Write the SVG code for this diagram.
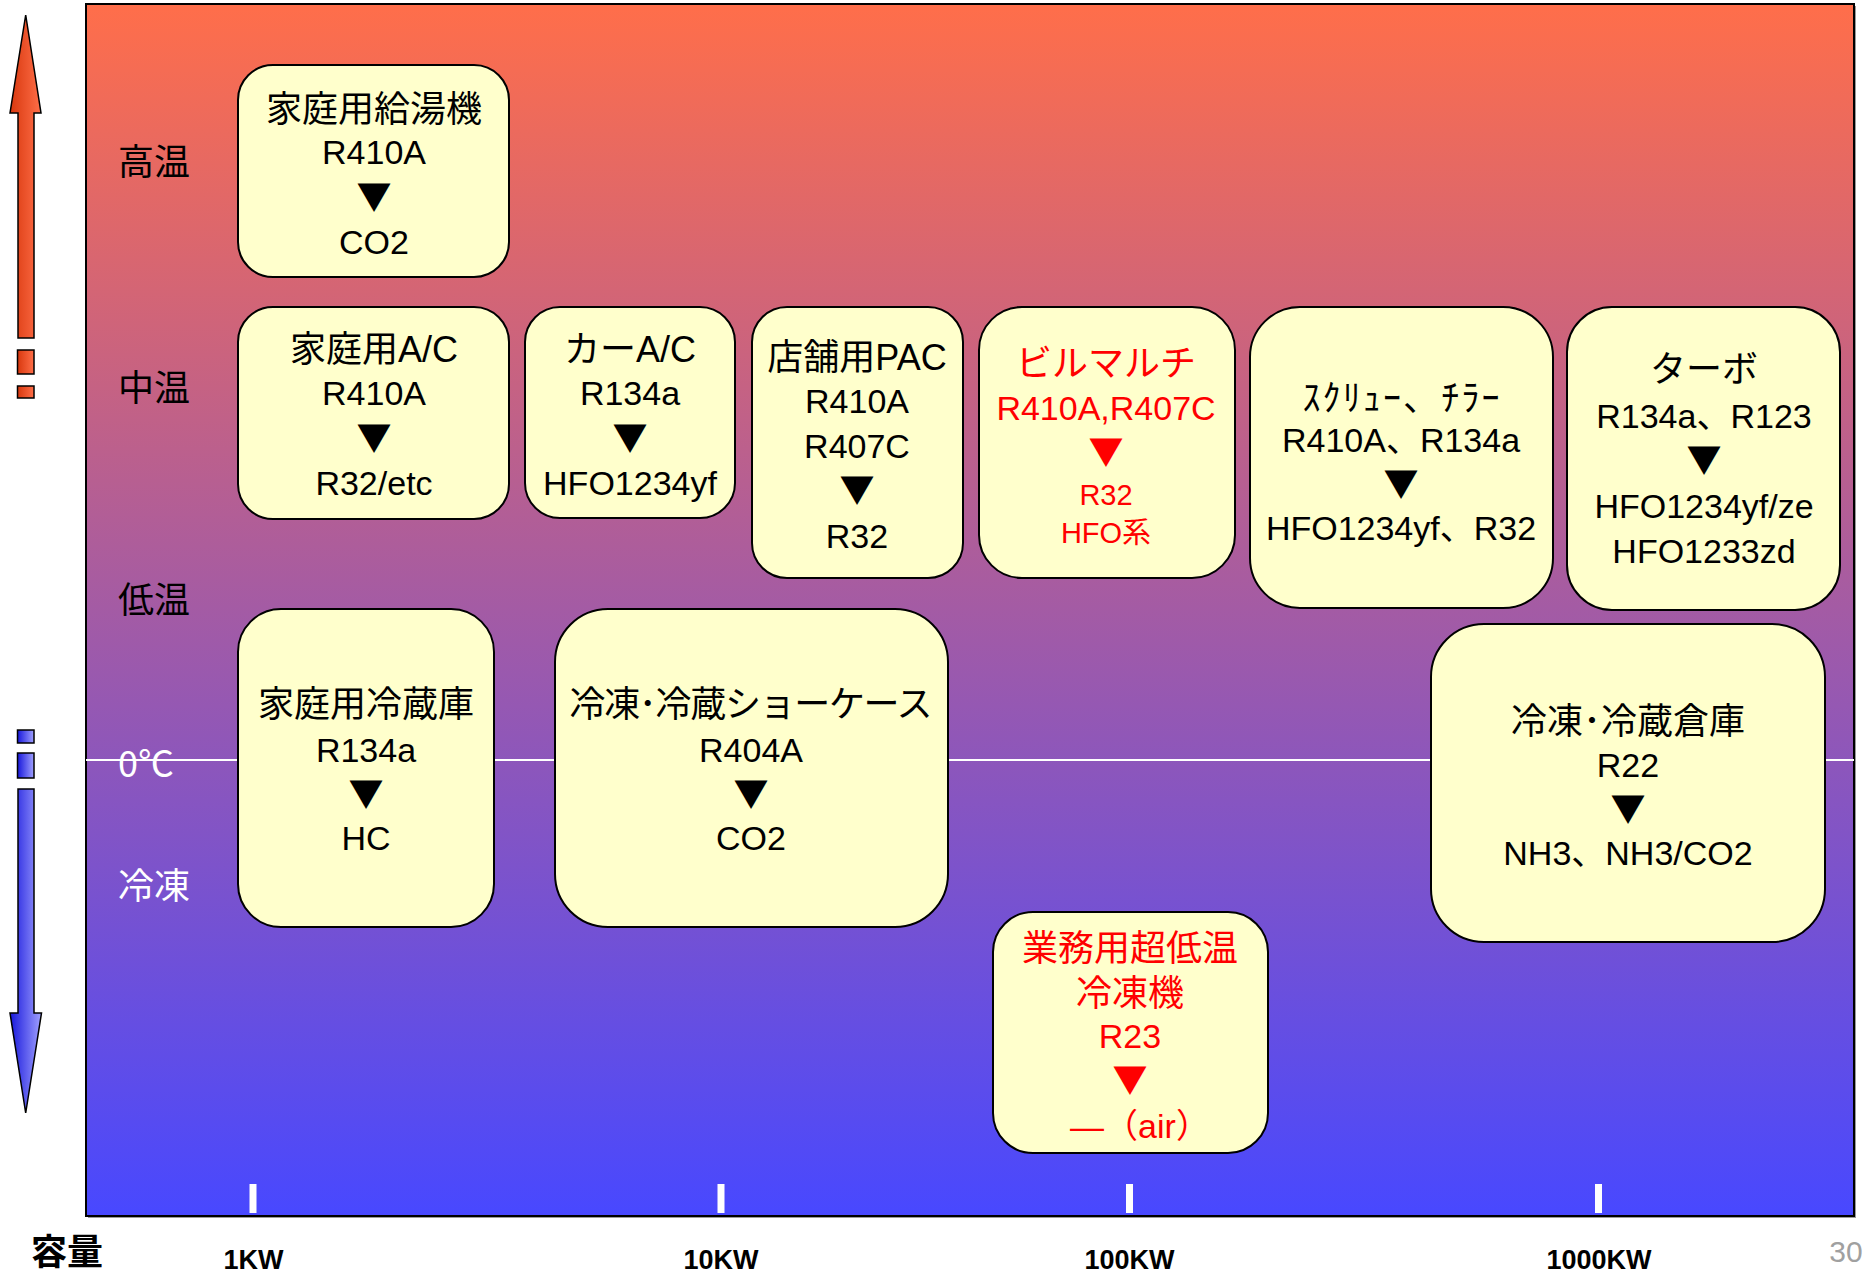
<svg xmlns="http://www.w3.org/2000/svg" width="1870" height="1272" viewBox="0 0 1870 1272">
<defs>
<linearGradient id="bg" x1="0" y1="0" x2="0" y2="1">
<stop offset="0" stop-color="#FF6E4A"/>
<stop offset="1" stop-color="#4848FF"/>
</linearGradient>
<linearGradient id="up" x1="0" y1="0" x2="1" y2="0">
<stop offset="0" stop-color="#D8380E"/>
<stop offset="1" stop-color="#FF6E48"/>
</linearGradient>
<linearGradient id="down" x1="0" y1="0" x2="1" y2="0">
<stop offset="0" stop-color="#1818DC"/>
<stop offset="1" stop-color="#A0A0FF"/>
</linearGradient>
<style>
.box{fill:#FFFFCC;stroke:#000;stroke-width:2}
.t{font-family:"Liberation Sans","Noto Sans CJK JP",sans-serif;font-size:34px;text-anchor:middle;fill:#000}
.j{font-size:36px}
.v{font-family:"Noto Sans CJK JP",sans-serif;font-size:35px}
.red{fill:#FF0000}
.sm{font-size:29px}
.side{font-family:"Noto Sans CJK JP",sans-serif;font-size:36px;text-anchor:middle;fill:#000}
.white{fill:#FFFFFF}
.kw{font-family:"Liberation Sans",sans-serif;font-size:27px;font-weight:bold;text-anchor:middle;fill:#000}
.arr{stroke:#000;stroke-width:1.5}
</style>
</defs>
<rect x="0" y="0" width="1870" height="1272" fill="#FFFFFF"/>
<g id="background">
<rect x="88" y="6" width="1768" height="1212" fill="#9A9A9A"/>
<rect x="86" y="4" width="1768" height="1212" fill="url(#bg)" stroke="#000" stroke-width="2"/>
<line x1="86" y1="760" x2="1854" y2="760" stroke="#FFFFFF" stroke-width="2"/>
<rect x="249.5" y="1184" width="7" height="29" fill="#FFFFFF"/>
<rect x="717.5" y="1184" width="7" height="29" fill="#FFFFFF"/>
<rect x="1126" y="1184" width="7" height="29" fill="#FFFFFF"/>
<rect x="1595" y="1184" width="7" height="29" fill="#FFFFFF"/>
</g>
<g id="temp-arrows">
<polygon class="arr" fill="url(#up)" points="25.7,15 41,113 34,113 34,338 18,338 18,113 10,113"/>
<rect class="arr" fill="url(#up)" x="17.5" y="350" width="16.5" height="24"/>
<rect class="arr" fill="url(#up)" x="17.5" y="386" width="16.5" height="12"/>
<rect class="arr" fill="url(#down)" x="17.5" y="730" width="16.5" height="13"/>
<rect class="arr" fill="url(#down)" x="17.5" y="753" width="16.5" height="25"/>
<polygon class="arr" fill="url(#down)" points="18,789 34,789 34,1013 41.5,1013 25.7,1113 10,1013 18,1013"/>
</g>
<g id="axis-labels">
<text class="side" x="154" y="175">高温</text>
<text class="side" x="154" y="401">中温</text>
<text class="side" x="154" y="613">低温</text>
<text class="side white" x="146" y="777">0℃</text>
<text class="side white" x="154" y="899">冷凍</text>
<text x="67" y="1265" font-family="Noto Sans CJK JP,sans-serif" font-size="36" font-weight="bold" text-anchor="middle" fill="#000">容量</text>
<text class="kw" x="253.5" y="1269">1KW</text>
<text class="kw" x="721" y="1269">10KW</text>
<text class="kw" x="1129.5" y="1269">100KW</text>
<text class="kw" x="1599" y="1269">1000KW</text>
<text x="1846" y="1262" font-family="Liberation Sans,sans-serif" font-size="30" text-anchor="middle" fill="#A0A0A0">30</text>
</g>
<g id="connectors"></g>
<g id="n1">
<rect class="box" x="238" y="65" width="271" height="212" rx="35"/>
<text class="t j" x="374" y="122">家庭用給湯機</text>
<text class="t" x="374" y="164">R410A</text>
<text class="t v" x="374" y="210">▼</text>
<text class="t" x="374" y="254">CO2</text>
</g>
<g id="n2">
<rect class="box" x="238" y="307" width="271" height="212" rx="35"/>
<text class="t j" x="374" y="362">家庭用A/C</text>
<text class="t" x="374" y="405">R410A</text>
<text class="t v" x="374" y="451">▼</text>
<text class="t" x="374" y="495">R32/etc</text>
</g>
<g id="n3">
<rect class="box" x="525" y="307" width="210" height="211" rx="35"/>
<text class="t j" x="630" y="362">カーA/C</text>
<text class="t" x="630" y="405">R134a</text>
<text class="t v" x="630" y="451">▼</text>
<text class="t" x="630" y="495">HFO1234yf</text>
</g>
<g id="n4">
<rect class="box" x="752" y="307" width="211" height="271" rx="35"/>
<text class="t j" x="857" y="370">店舗用PAC</text>
<text class="t" x="857" y="413">R410A</text>
<text class="t" x="857" y="458">R407C</text>
<text class="t v" x="857" y="503">▼</text>
<text class="t" x="857" y="548">R32</text>
</g>
<g id="n5">
<rect class="box" x="979" y="307" width="256" height="271" rx="43"/>
<text class="t j red" x="1106" y="376">ビルマルチ</text>
<text class="t red" x="1106" y="420">R410A,R407C</text>
<text class="t v red" x="1106" y="465">▼</text>
<text class="t red sm" x="1106" y="505">R32</text>
<text class="t red sm" x="1106" y="543">HFO系</text>
</g>
<g id="n6">
<rect class="box" x="1250" y="307" width="303" height="301" rx="50"/>
<text class="t j" x="1401" y="411" textLength="197" lengthAdjust="spacing">ｽｸﾘｭｰ、ﾁﾗｰ</text>
<text class="t" x="1401" y="452">R410A、R134a</text>
<text class="t v" x="1401" y="497">▼</text>
<text class="t" x="1401" y="540">HFO1234yf、R32</text>
</g>
<g id="n7">
<rect class="box" x="1567" y="307" width="273" height="303" rx="45"/>
<text class="t j" x="1704" y="382">ターボ</text>
<text class="t" x="1704" y="428">R134a、R123</text>
<text class="t v" x="1704" y="473">▼</text>
<text class="t" x="1704" y="518">HFO1234yf/ze</text>
<text class="t" x="1704" y="563">HFO1233zd</text>
</g>
<g id="n8">
<rect class="box" x="238" y="609" width="256" height="318" rx="43"/>
<text class="t j" x="366" y="717">家庭用冷蔵庫</text>
<text class="t" x="366" y="762">R134a</text>
<text class="t v" x="366" y="807">▼</text>
<text class="t" x="366" y="850">HC</text>
</g>
<g id="n9">
<rect class="box" x="555" y="609" width="393" height="318" rx="53"/>
<text class="t j" x="751" y="717" textLength="363" lengthAdjust="spacing">冷凍･冷蔵ショーケース</text>
<text class="t" x="751" y="762">R404A</text>
<text class="t v" x="751" y="807">▼</text>
<text class="t" x="751" y="850">CO2</text>
</g>
<g id="n10">
<rect class="box" x="1431" y="624" width="394" height="318" rx="53"/>
<text class="t j" x="1628" y="734">冷凍･冷蔵倉庫</text>
<text class="t" x="1628" y="777">R22</text>
<text class="t v" x="1628" y="822">▼</text>
<text class="t" x="1628" y="865">NH3、NH3/CO2</text>
</g>
<g id="n11">
<rect class="box" x="993" y="912" width="275" height="241" rx="40"/>
<text class="t j red" x="1130" y="961">業務用超低温</text>
<text class="t j red" x="1130" y="1006">冷凍機</text>
<text class="t red" x="1130" y="1048">R23</text>
<text class="t v red" x="1130" y="1093">▼</text>
<text class="t red" x="1140" y="1138">―（air）</text>
</g>
</svg>
